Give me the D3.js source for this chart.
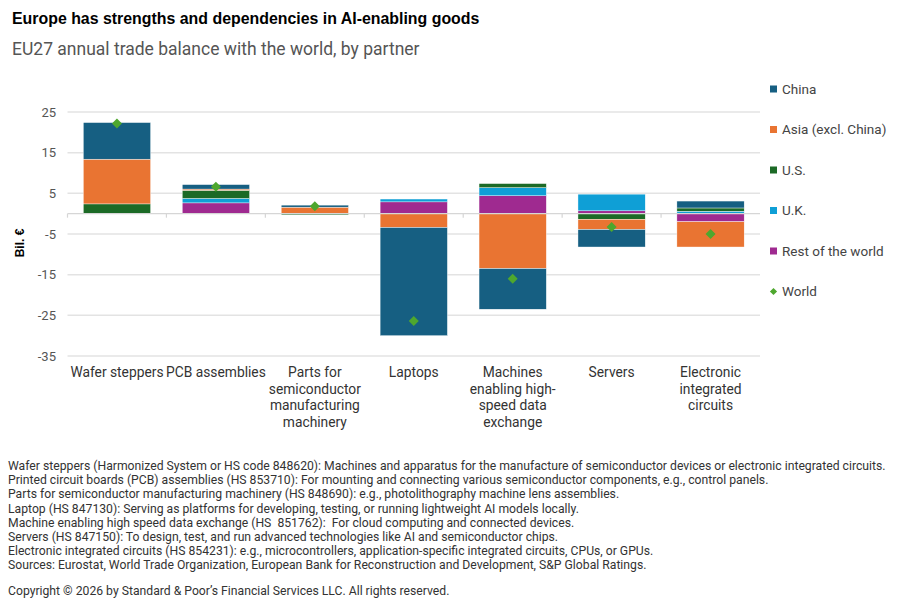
<!DOCTYPE html>
<html>
<head>
<meta charset="utf-8">
<script src="https://cdn.jsdelivr.net/npm/d3@7"></script>
<style>
  body { margin: 0; background: #fff; }
  text { font-family: Roboto, "Liberation Sans", sans-serif; white-space: pre; }
</style>
</head>
<body>
<div id="chart"></div>
<script>
// categories (x labels, one array of lines per category)
var categories = ["Wafer steppers", "PCB assemblies", "Parts for semiconductor", "Laptops", "Machines enabling", "Servers", "Electronic integrated circuits"]
var catLines = [
  ["Wafer steppers"],
  ["PCB assemblies"],
  ["Parts for", "semiconductor", "manufacturing", "machinery"],
  ["Laptops"],
  ["Machines", "enabling high-", "speed data", "exchange"],
  ["Servers"],
  ["Electronic", "integrated", "circuits"]
]

// trade balance by partner, bil. EUR
var china = [9.0, 1.1, 0.5, -26.6, -10.0, -4.3, 1.7]
var asia  = [11.0, 0.3, 1.6, -3.4, -13.5, -2.5, -6.2]
var us    = [2.4, 2.0, -0.3, 0, 1.0, -1.4, 0.8]
var uk    = [0, 1.1, 0, 0.7, 2.0, 4.1, 0.6]
var row   = [0, 2.65, 0, 2.9, 4.4, 0.7, -2.0]
var world = [22.2, 6.6, 1.8, -26.4, -16.0, -3.3, -5.0]

var yTicks = [25, 15, 5, -5, -15, -25, -35]

var legendNames = ["China", "Asia (excl. China)", "U.S.", "U.K.", "Rest of the world", "World"]

var notes = [
  "Wafer steppers (Harmonized System or HS code 848620): Machines and apparatus for the manufacture of semiconductor devices or electronic integrated circuits.",
  "Printed circuit boards (PCB) assemblies (HS 853710): For mounting and connecting various semiconductor components, e.g., control panels.",
  "Parts for semiconductor manufacturing machinery (HS 848690): e.g., photolithography machine lens assemblies.",
  "Laptop (HS 847130): Serving as platforms for developing, testing, or running lightweight AI models locally.",
  "Machine enabling high speed data exchange (HS  851762):  For cloud computing and connected devices.",
  "Servers (HS 847150): To design, test, and run advanced technologies like AI and semiconductor chips.",
  "Electronic integrated circuits (HS 854231): e.g., microcontrollers, application-specific integrated circuits, CPUs, or GPUs.",
  "Sources: Eurostat, World Trade Organization, European Bank for Reconstruction and Development, S&P Global Ratings."
]

var colors = { china: "#165f82", asia: "#e97432", us: "#1c6a26", uk: "#0f9fd6", row: "#9f2a90" }
var worldColor = "#4ea72e"

var rows = categories.map(function(c, i) {
  return { cat: c, china: china[i], asia: asia[i], us: us[i], uk: uk[i], row: row[i], world: world[i] }
})

var width = 900, height = 598

var svg = d3.select("#chart").append("svg")
  .attr("width", width)
  .attr("height", height)

// titles
svg.append("text")
  .attr("x", 12).attr("y", 24)
  .style("font-family", "'Liberation Sans', Arial, sans-serif")
  .style("font-weight", "bold")
  .style("font-size", "15.9px")
  .style("fill", "#000")
  .text("Europe has strengths and dependencies in AI-enabling goods")

svg.append("text")
  .attr("x", 12).attr("y", 55)
  .style("font-size", "17.5px")
  .style("fill", "#555")
  .text("EU27 annual trade balance with the world, by partner")

var x = d3.scaleBand()
  .domain(categories)
  .range([67.5, 760])
  .paddingInner(0.32)
  .paddingOuter(0.16)

var y = d3.scaleLinear()
  .domain([-35, 25])
  .range([356, 112])

// gridlines
svg.append("g")
  .selectAll("line")
  .data(yTicks).enter()
  .append("line")
  .attr("x1", 67.5).attr("x2", 760)
  .attr("y1", function(d) { return y(d) })
  .attr("y2", function(d) { return y(d) })
  .attr("stroke", "#e3e3e3")
  .attr("stroke-width", 1.5)

// y labels
svg.append("g")
  .selectAll("text")
  .data(yTicks).enter()
  .append("text")
  .attr("x", 56)
  .attr("y", function(d) { return y(d) + 4.5 })
  .attr("text-anchor", "end")
  .style("font-size", "13px")
  .style("fill", "#555")
  .text(function(d) { return d })

svg.append("text")
  .attr("transform", "translate(24,243) rotate(-90)")
  .attr("text-anchor", "middle")
  .style("font-family", "'Liberation Sans', Arial, sans-serif")
  .style("font-weight", "bold")
  .style("font-size", "12px")
  .style("fill", "#000")
  .text("Bil. €")

// stacked bars, rest of world closest to zero, China outermost
var stack = d3.stack()
  .keys(["row", "uk", "us", "asia", "china"])
  .offset(d3.stackOffsetDiverging)
var series = stack(rows)

svg.append("g")
  .selectAll("g")
  .data(series).enter()
  .append("g")
  .attr("fill", function(s) { return colors[s.key] })
  .selectAll("rect")
  .data(function(s) { return s }).enter()
  .append("rect")
  .attr("x", function(d) { return x(d.data.cat) })
  .attr("width", x.bandwidth())
  .attr("y", function(d) { return y(Math.max(d[0], d[1])) })
  .attr("height", function(d) { return Math.abs(y(d[0]) - y(d[1])) })
  .attr("stroke", "#fff")
  .attr("stroke-width", 0.4)

// zero axis line with ticks at band edges
var zero = svg.append("g").attr("transform", "translate(0," + y(0) + ")")
zero.append("line")
  .attr("x1", 67.5).attr("x2", 760)
  .attr("stroke", "#d6d6d6").attr("stroke-width", 1.2)
zero.selectAll("line.tk")
  .data(categories).enter()
  .append("line").attr("class", "tk")
  .attr("x1", function(d) { return x(d) - x.step() * x.paddingOuter() })
  .attr("x2", function(d) { return x(d) - x.step() * x.paddingOuter() })
  .attr("y1", 0).attr("y2", 4)
  .attr("stroke", "#d6d6d6").attr("stroke-width", 1.2)

// world markers
svg.append("g")
  .selectAll("path")
  .data(rows).enter()
  .append("path")
  .attr("d", d3.symbol().type(d3.symbolSquare).size(50))
  .attr("transform", function(d) {
    return "translate(" + (x(d.cat) + x.bandwidth() / 2) + "," + y(d.world) + ") rotate(45)"
  })
  .attr("fill", worldColor)

// x labels
var xl = svg.append("g")
  .selectAll("text")
  .data(categories).enter()
  .append("text")
  .attr("text-anchor", "middle")
  .attr("transform", function(d) { return "translate(" + (x(d) + x.bandwidth() / 2) + ",377)" })
  .style("font-size", "13.8px")
  .style("fill", "#333")
xl.selectAll("tspan")
  .data(function(d, i) { return catLines[i] }).enter()
  .append("tspan")
  .attr("x", 0)
  .attr("dy", function(d, i) { return i === 0 ? 0 : 16.7 })
  .text(function(d) { return d })

// legend
var legKeys = ["china", "asia", "us", "uk", "row"]
var leg = svg.append("g")
  .selectAll("g")
  .data(legendNames).enter()
  .append("g")
  .attr("transform", function(d, i) { return "translate(770," + (89 + i * 40.5) + ")" })
leg.each(function(d, i) {
  var g = d3.select(this)
  if (i < 5) {
    g.append("rect").attr("x", 0).attr("y", -3.5).attr("width", 7).attr("height", 7)
      .attr("fill", colors[legKeys[i]])
  } else {
    g.append("path")
      .attr("d", d3.symbol().type(d3.symbolSquare).size(26))
      .attr("transform", "translate(3.5,0) rotate(45)")
      .attr("fill", worldColor)
  }
  g.append("text").attr("x", 12).attr("y", 4.8)
    .style("font-size", "13.5px")
    .style("fill", "#444")
    .text(d)
})

// footnotes
svg.append("g")
  .selectAll("text")
  .data(notes).enter()
  .append("text")
  .attr("x", 8)
  .attr("y", function(d, i) { return 470 + i * 14.2 })
  .style("font-size", "12.2px")
  .style("fill", "#333")
  .text(function(d) { return d })

svg.append("text")
  .attr("x", 8).attr("y", 595)
  .style("font-size", "12.2px")
  .style("fill", "#333")
  .text("Copyright © 2026 by Standard & Poor’s Financial Services LLC. All rights reserved.")
</script>
</body>
</html>
